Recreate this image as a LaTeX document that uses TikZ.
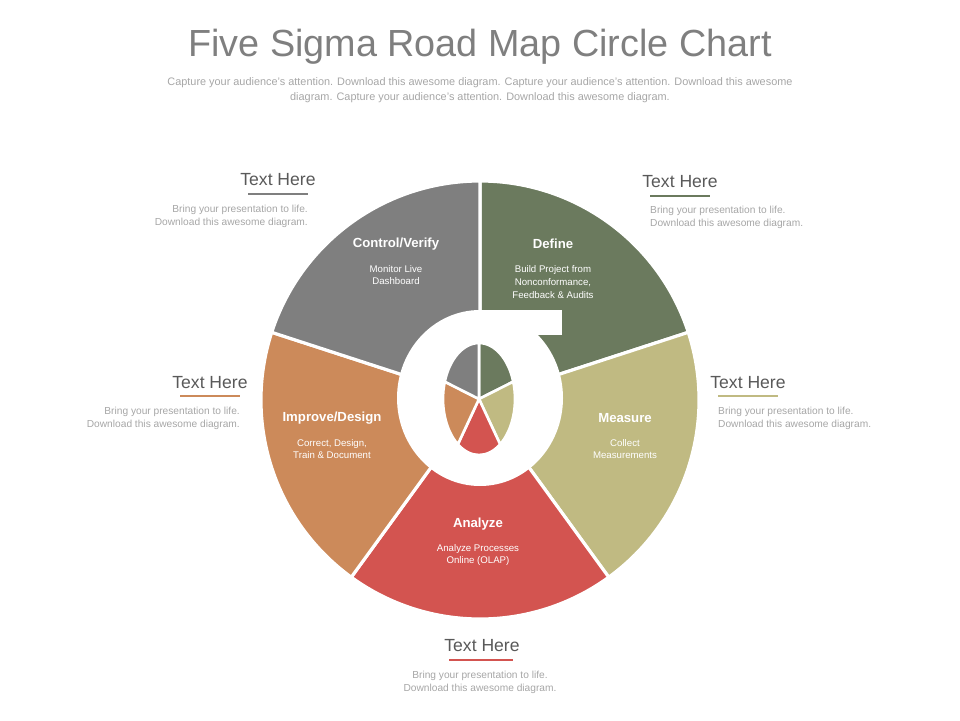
\documentclass[tikz,border=0pt]{standalone}
\usepackage{fontspec}
\setmainfont{Liberation Sans}
\usepackage{tikz}
\definecolor{grayc}{HTML}{7F7F7F}
\definecolor{greenc}{HTML}{6B7A5E}
\definecolor{khakic}{HTML}{C0BA82}
\definecolor{redc}{HTML}{D35450}
\definecolor{orangec}{HTML}{CC8A5A}
\definecolor{textc}{HTML}{595959}
\definecolor{lightc}{HTML}{A6A6A6}
\tikzset{
  head/.style={font=\fontsize{10}{12}\selectfont, text=textc},
  body/.style={font=\fontsize{5.8}{7.4}\selectfont, text=lightc, align=#1},
  sechead/.style={font=\fontsize{7.5}{9}\selectfont\bfseries, text=white},
  secbody/.style={font=\fontsize{5.5}{7.3}\selectfont, text=white, align=center},
  uline/.style={line width=1.6pt, #1}
}
\begin{document}
\begin{tikzpicture}[x=0.02cm, y=-0.02cm]
   \useasboundingbox (0,0) rectangle (960,720);
   % title
   \node[text=grayc, font=\fontsize{21.5}{26}\selectfont] (title) at (480,47) {Five Sigma Road Map Circle Chart};
   \node[text=lightc, font=\fontsize{6.2}{8.4}\selectfont, align=center] (subtitle) at (480,90)
     {Capture your audience's attention. Download this awesome diagram. Capture your audience's attention. Download this awesome\\ diagram. Capture your audience's attention. Download this awesome diagram.};

   % outer sectors (angles are math angles, y is flipped)
   \foreach \a/\b/\c in {90/18/greenc, 18/-54/khakic, -54/-126/redc, -126/-198/orangec, 162/90/grayc}{
     \fill[\c, draw=white, line width=1.8pt] (480,400) -- ({480+219*cos(\a)},{400-219*sin(\a)})
        arc[start angle=-\a, end angle=-\b, radius=219] -- cycle;
   }
   % sigma
   \fill[white] (480,398) ellipse[x radius=83, y radius=88];
   \fill[white] (478,310) rectangle (562,335);
   % inner pie
   \foreach \a/\b/\c in {90/18/greenc, 18/-54/khakic, -54/-126/redc, -126/-198/orangec, 162/90/grayc}{
     \fill[\c, draw=white, line width=1.5pt] (479,399) -- ({479+36*cos(\a)},{399-56*sin(\a)})
        arc[start angle=-\a, end angle=-\b, x radius=36, y radius=56] -- cycle;
   }

   % sector texts
   \node[sechead] (ctl) at (396,244) {Control/Verify};
   \node[secbody] (ctlb) at (396,275) {Monitor Live\\Dashboard};
   \node[sechead] (def) at (553,244) {Define};
   \node[secbody] (defb) at (553,282) {Build Project from\\Nonconformance,\\Feedback \& Audits};
   \node[sechead] (mea) at (625,418) {Measure};
   \node[secbody] (meab) at (625,449) {Collect\\Measurements};
   \node[sechead] (ana) at (478,524) {Analyze};
   \node[secbody] (anab) at (478,555) {Analyze Processes\\Online (OLAP)};
   \node[sechead] (imp) at (332,418) {Improve/Design};
   \node[secbody] (impb) at (332,449) {Correct, Design,\\Train \& Document};

   % side texts
   \node[head] (t1) at (278,180) {Text Here};
   \draw[uline=grayc] (248,194) -- (308,194);
   \node[body=right, anchor=north east] (b1) at (314,199) {Bring your presentation to life.\\Download this awesome diagram.};

   \node[head] (t2) at (680,182) {Text Here};
   \draw[uline=greenc] (650,196) -- (710,196);
   \node[body=left, anchor=north west] (b2) at (644,200) {Bring your presentation to life.\\Download this awesome diagram.};

   \node[head] (t3) at (210,383) {Text Here};
   \draw[uline=orangec] (180,396) -- (240,396);
   \node[body=right, anchor=north east] (b3) at (246,401) {Bring your presentation to life.\\Download this awesome diagram.};

   \node[head] (t4) at (748,383) {Text Here};
   \draw[uline=khakic] (718,396) -- (778,396);
   \node[body=left, anchor=north west] (b4) at (712,401) {Bring your presentation to life.\\Download this awesome diagram.};

   \node[head] (t5) at (482,646) {Text Here};
   \draw[uline=redc] (449,660) -- (513,660);
   \node[body=center, anchor=north] (b5) at (480,665) {Bring your presentation to life.\\Download this awesome diagram.};
\end{tikzpicture}
\end{document}
